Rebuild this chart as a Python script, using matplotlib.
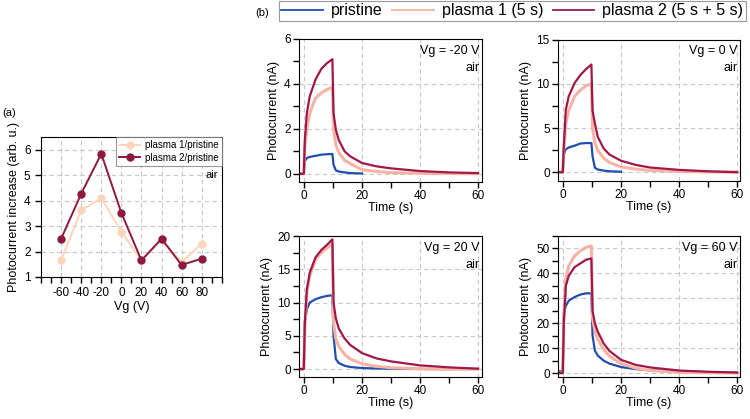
import matplotlib
matplotlib.use("Agg")
import matplotlib.pyplot as plt
from matplotlib.ticker import MultipleLocator
from matplotlib.lines import Line2D

plt.rcParams['font.family'] = ['Liberation Sans', 'DejaVu Sans']
plt.rcParams['axes.unicode_minus'] = False

# ---------------- Panel (a) data ----------------
vg = [-60, -40, -20, 0, 20, 40, 60, 80]
ratio_p1 = [1.66, 3.62, 4.10, 2.78, 1.65, 2.45, 1.59, 2.31]
ratio_p2 = [2.50, 4.27, 5.84, 3.52, 1.65, 2.50, 1.47, 1.72]

# ---------------- Panel (b) data ----------------
t = [-1.7, -0.05, 0.3, 1, 2, 4, 6, 8, 9.8, 10.2, 11, 12, 14, 16, 20, 25, 30, 40, 50, 60]

panel_titles = ["Vg = -20 V", "Vg = 0 V", "Vg = 20 V", "Vg = 60 V"]

pristine = [
    [0, 0, 0.55, 0.70, 0.75, 0.80, 0.85, 0.87, 0.88, 0.40, 0.15, 0.10, 0.06, 0.03, 0.01, None, None, None, None, None],
    [0, 0, 2.0, 2.6, 2.8, 3.0, 3.25, 3.3, 3.3, 1.8, 0.5, 0.3, 0.18, 0.10, 0.05, None, None, None, None, None],
    [0, 0, 7.0, 9.0, 10.0, 10.5, 10.8, 11.0, 11.1, 5.0, 1.5, 0.9, 0.5, 0.3, 0.15, 0.08, 0.05, 0.0, 0.0, 0.0],
    [0.7, 0.7, 24, 27, 29, 30.5, 31.5, 32, 32, 15, 9, 7, 5, 3.8, 2.4, 1.6, 1.1, 0.6, 0.4, 0.2],
]
plasma1 = [
    [0, 0, 1.2, 2.0, 2.7, 3.37, 3.6, 3.75, 3.85, 2.0, 1.3, 0.95, 0.6, 0.45, 0.18, 0.10, 0.05, 0.02, 0.01, 0.0],
    [0, 0, 2.5, 5.5, 7.0, 8.6, 9.3, 9.8, 10.0, 5.0, 3.3, 2.5, 1.6, 1.1, 0.6, 0.35, 0.2, 0.08, 0.02, 0.0],
    [0, 0, 6, 11.5, 14, 16.5, 17.5, 18.2, 18.8, 7, 4.5, 3.4, 2.2, 1.5, 0.8, 0.4, 0.2, 0.05, 0.0, 0.0],
    [0, 0, 22, 38, 43, 47, 49, 50.5, 51, 22, 17, 13.5, 9.5, 6.8, 3.8, 2.0, 1.0, 0.3, 0.05, 0.0],
]
plasma2 = [
    [0, 0, 1.5, 2.7, 3.45, 4.2, 4.67, 4.93, 5.1, 2.7, 1.96, 1.5, 1.0, 0.77, 0.48, 0.33, 0.24, 0.12, 0.06, 0.03],
    [0, 0, 3.0, 7.1, 8.6, 10.1, 11.0, 11.7, 12.2, 7.0, 5.5, 4.0, 2.7, 2.0, 1.3, 0.83, 0.53, 0.26, 0.10, 0.0],
    [0, 0, 7, 12, 14.5, 16.8, 17.9, 18.7, 19.5, 10, 7.6, 6.1, 4.6, 3.6, 2.4, 1.6, 1.15, 0.55, 0.25, 0.05],
    [0, 0, 20, 35, 39, 42.5, 44, 45.5, 46, 25, 20, 16.6, 11.9, 8.9, 5.3, 3.3, 2.25, 1.0, 0.5, 0.2],
]
ylims = [(-0.36, 6), (-1.0, 15), (-1.2, 20), (-1.6, 55)]
ymajor = [2, 5, 5, 10]

c_pris = "#1f4db0"
c_p1 = "#f7b3a3"
c_p2 = "#a0184a"
c_a1 = "#fbd6bb"
c_a2 = "#8c1a3e"
grid_kw = dict(color="#c8c8c8", linestyle=(0, (4, 3)), linewidth=0.8)

fig = plt.figure(figsize=(7.5, 4.19), dpi=100)

# ---------------- Panel (a) ----------------
axa = fig.add_axes([0.0547, 0.339, 0.241, 0.334])
axa.plot(vg, ratio_p1, color=c_a1, marker="o", ms=5, lw=1.4, label="plasma 1/pristine")
axa.plot(vg, ratio_p2, color=c_a2, marker="o", ms=5, lw=1.4, label="plasma 2/pristine")
axa.set_xlim(-80, 100)
axa.set_ylim(1, 6.5)
axa.set_xticks(vg)
axa.xaxis.set_minor_locator(MultipleLocator(10))
axa.set_yticks([1, 2, 3, 4, 5, 6])
axa.grid(True, **grid_kw)
axa.set_axisbelow(True)
axa.tick_params(direction="out", labelsize=8.5, length=4, width=1)
axa.tick_params(which="minor", direction="out", length=4, width=1)
axa.set_xlabel("Vg (V)", fontsize=9, labelpad=1)
axa.set_ylabel("Photocurrent increase (arb. u.)", fontsize=9, labelpad=3)
leg = axa.legend(loc="upper right", fontsize=7, frameon=True, fancybox=False,
                 borderaxespad=0, handlelength=2.2, borderpad=0.3, labelspacing=0.3,
                 handletextpad=0.5)
leg.get_frame().set_edgecolor("#808080")
leg.get_frame().set_linewidth(0.8)
axa.text(0.98, 0.73, "air", transform=axa.transAxes, ha="right", va="center", fontsize=8)
fig.text(0.003, 0.73, "(a)", fontsize=8, ha="left", va="center")

# ---------------- Panel (b) ----------------
positions = [
    [0.3987, 0.566, 0.244, 0.341],
    [0.744, 0.568, 0.2427, 0.337],
    [0.3987, 0.1002, 0.244, 0.3365],
    [0.744, 0.1002, 0.2427, 0.3365],
]
xl = [(-1.7, 61.4), (-1.7, 61.0), (-1.7, 61.4), (-1.7, 61.0)]

for i in range(4):
    ax = fig.add_axes(positions[i])
    tp = [tt for tt, v in zip(t, pristine[i]) if v is not None]
    vp = [v for v in pristine[i] if v is not None]
    ax.plot(tp, vp, color=c_pris, lw=1.6)
    ax.plot(t, plasma1[i], color=c_p1, lw=2.2)
    ax.plot(t, plasma2[i], color=c_p2, lw=1.6)
    ax.set_xlim(*xl[i])
    ax.set_ylim(*ylims[i])
    ax.xaxis.set_major_locator(MultipleLocator(20))
    ax.xaxis.set_minor_locator(MultipleLocator(10))
    ax.yaxis.set_major_locator(MultipleLocator(ymajor[i]))
    ax.yaxis.set_minor_locator(MultipleLocator(ymajor[i] / 2))
    ax.grid(True, **grid_kw)
    ax.set_axisbelow(True)
    ax.tick_params(direction="out", labelsize=8.5, length=4, width=1, pad=2)
    ax.tick_params(which="minor", direction="out", length=4, width=1)
    ax.set_xlabel("Time (s)", fontsize=9, labelpad=0)
    ax.set_ylabel("Photocurrent (nA)", fontsize=9, labelpad=3)
    ax.text(0.985, 0.96, panel_titles[i], transform=ax.transAxes, ha="right", va="top", fontsize=9)
    ax.text(0.985, 0.84, "air", transform=ax.transAxes, ha="right", va="top", fontsize=9)

fig.text(0.34, 0.968, "(b)", fontsize=8, ha="left", va="center")
handles = [Line2D([], [], color=c_pris, lw=1.3),
           Line2D([], [], color=c_p1, lw=1.3),
           Line2D([], [], color=c_p2, lw=1.3)]
labels = ["pristine", "plasma 1 (5 s)", "plasma 2 (5 s + 5 s)"]
lg = fig.legend(handles, labels, loc="upper left", bbox_to_anchor=(279 / 750, 1 - 1 / 419),
                ncol=3, fontsize=11.5, frameon=True, fancybox=False, borderaxespad=0,
                handlelength=2.6, handletextpad=0.5, columnspacing=0.6, borderpad=0.15)
lg.get_frame().set_edgecolor("#808080")
lg.get_frame().set_linewidth(0.8)

fig.savefig("out.png", dpi=100)
